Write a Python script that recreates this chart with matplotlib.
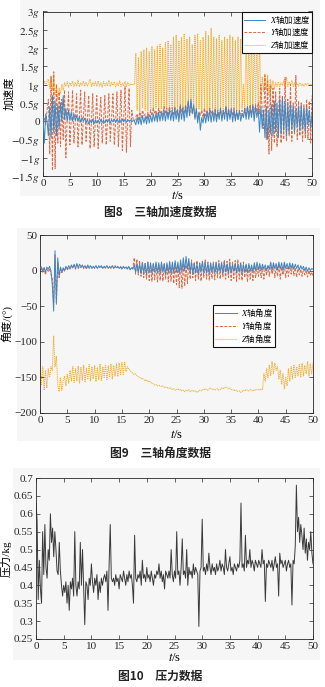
import numpy as np
import matplotlib
matplotlib.use("Agg")
import matplotlib.pyplot as plt
from matplotlib.patches import Rectangle

plt.rcParams['font.family'] = ['Liberation Serif', 'Noto Sans CJK SC']
plt.rcParams['mathtext.fontset'] = 'stix'
plt.rcParams['axes.unicode_minus'] = True

# ---------------- 图8 三轴加速度 (单位 g), 每 0.25 s 一个点 ----------------
acc_x = [
    0.10, -0.60, 0.20, 0.00, -0.40, 0.40, -0.45, 0.70,
    -0.30, 0.55, -0.40, 0.45, -0.20, 0.50, 0.00, 0.70,
    0.05, 0.35, 0.00, 0.30, 0.02, 0.25, 0.00, 0.20,
    0.02, 0.15, 0.00, 0.12, -0.03, 0.10, 0.00, 0.08,
    -0.05, 0.05, -0.08, 0.03, -0.05, 0.05, -0.07, 0.04,
    -0.05, 0.03, -0.06, 0.05, -0.04, 0.03, -0.05, 0.04,
    -0.03, 0.05, -0.05, 0.04, -0.02, 0.06, -0.04, 0.05,
    -0.03, 0.05, -0.04, 0.06, -0.02, 0.05, -0.03, 0.04,
    0.00, 0.03, -0.02, 0.02, 0.00, -0.10, 0.10, -0.08,
    0.12, -0.10, 0.15, -0.05, 0.12, -0.08, 0.18, -0.05,
    0.15, -0.03, 0.20, 0.00, 0.22, -0.02, 0.25, 0.00,
    0.25, 0.02, 0.30, 0.00, 0.28, 0.05, 0.32, 0.02,
    0.30, 0.00, 0.35, 0.05, 0.30, -0.02, 0.38, 0.05,
    0.35, 0.00, 0.40, 0.10, 0.55, 0.15, 0.60, 0.20,
    0.45, 0.05, 0.35, -0.05, 0.25, -0.25, 0.10, -0.05,
    0.20, -0.05, 0.25, 0.00, 0.30, -0.03, 0.28, 0.00,
    0.30, -0.02, 0.25, 0.05, 0.35, 0.00, 0.30, 0.05,
    0.40, 0.00, 0.30, 0.05, 0.35, -0.02, 0.30, 0.00,
    0.25, 0.05, 0.30, 0.00, 0.20, 0.10, 0.35, 0.05,
    0.40, 0.05, 0.35, 0.10, 0.45, 0.00, 0.40, 0.10,
    0.35, -0.30, 0.40, -0.20, 0.30, -0.45, 0.40, -0.50,
    0.30, -0.35, 0.45, -0.40, 0.55, -0.30, 0.50, -0.45,
    0.60, -0.35, 0.65, -0.25, 0.55, -0.40, 0.45, -0.30,
    0.50, -0.20, 0.40, -0.30, 0.35, -0.15, 0.40, -0.25,
    0.45, -0.20, 0.35, -0.30, 0.40, -0.10, 0.30, -0.20,
    0.20,
]
acc_y = [
    0.00, 0.10, -0.10, 0.30, 0.60, -0.90, 1.20, -1.35,
    1.35, -1.30, 1.00, -0.60, 0.80, -0.70, 0.60, -0.50,
    0.85, -1.00, 0.10, 0.80, -0.65, 0.05, 0.85, -0.60,
    0.00, 0.75, -0.70, 0.10, 0.85, -0.65, 0.05, 0.80,
    -0.55, 0.10, 0.70, -0.75, 0.00, 0.75, -0.70, 0.05,
    0.70, -0.75, 0.10, 0.65, -0.60, 0.00, 0.70, -0.65,
    0.05, 0.75, -0.55, 0.10, 0.75, -0.65, 0.00, 0.80,
    -0.70, 0.10, 0.85, -0.80, 0.05, 0.95, -0.85, 0.10,
    0.90, -0.70, 0.30, 0.05, 0.00, 0.10, 0.20, 0.05,
    0.25, 0.10, 0.30, 0.15, 0.20, 0.05, 0.25, 0.10,
    0.30, 0.15, 0.35, 0.20, 0.30, 0.10, 0.35, 0.20,
    0.30, 0.15, 0.40, 0.20, 0.35, 0.15, 0.40, 0.25,
    0.35, 0.15, 0.40, 0.20, 0.35, 0.10, 0.45, 0.25,
    0.40, 0.20, 0.45, 0.25, 0.55, 0.15, 0.50, 0.20,
    0.35, 0.10, 0.30, 0.05, 0.25, 0.15, 0.30, 0.10,
    0.35, 0.15, 0.30, 0.10, 0.35, 0.20, 0.30, 0.15,
    0.35, 0.10, 0.30, 0.15, 0.35, 0.10, 0.30, 0.20,
    0.40, 0.15, 0.35, 0.10, 0.30, 0.15, 0.35, 0.10,
    0.30, 0.05, 0.25, 0.15, 0.30, 0.10, 0.35, 0.15,
    0.40, 0.20, 0.45, 0.15, 0.40, 0.20, 0.45, 0.25,
    0.50, 0.20, 1.00, 0.30, -0.20, 1.25, -0.50, 1.10,
    -0.90, 1.00, -0.80, 0.90, -0.60, 0.80, -0.70, 0.20,
    0.90, -0.60, 0.70, -0.50, 1.20, -0.55, 0.60, -0.40,
    1.00, -0.55, 0.50, -0.35, 1.25, -0.50, 0.55, -0.40,
    0.50, -0.55, 0.45, -0.45, 0.60, -0.50, 0.55, -0.60,
    0.70,
]
acc_z = [
    1.00, 1.10, 0.95, 1.08, 1.15, 0.90, 1.25, 0.85,
    1.20, 0.70, 1.00, 0.60, 0.90, 0.75, 1.00, 0.85,
    1.05, 0.95, 1.08, 0.93, 1.05, 0.97, 1.10, 0.95,
    1.06, 0.96, 1.12, 0.94, 1.05, 0.98, 1.10, 0.95,
    1.07, 0.96, 1.04, 1.15, 0.95, 1.06, 0.97, 1.08,
    0.95, 1.10, 0.96, 1.05, 0.93, 1.08, 0.97, 1.05,
    0.96, 1.12, 0.95, 1.06, 0.98, 1.08, 0.94, 1.05,
    0.97, 1.10, 0.95, 1.04, 0.96, 1.08, 0.95, 1.06,
    0.97, 1.03, 0.98, 1.02, 1.00, 1.85, 0.30, 1.75,
    0.25, 1.90, 0.35, 1.95, 0.30, 2.00, 0.28, 1.90,
    0.32, 2.05, 0.30, 1.95, 0.35, 2.05, 0.30, 2.10,
    0.33, 2.00, 0.30, 2.15, 0.35, 2.20, 0.32, 2.10,
    0.35, 2.30, 0.30, 2.35, 0.38, 2.20, 0.33, 2.30,
    0.36, 2.40, 0.30, 2.25, 0.40, 2.30, 0.35, 2.10,
    0.30, 2.35, 0.28, 2.40, 0.32, 2.20, 0.30, 2.30,
    0.30, 2.45, 0.28, 2.35, 0.30, 2.55, 0.33, 2.30,
    0.30, 2.25, 0.28, 2.35, 0.30, 2.20, 0.32, 2.30,
    0.28, 2.25, 0.30, 2.35, 0.27, 2.30, 0.30, 2.20,
    0.28, 2.30, 0.30, 2.25, 0.35, 1.00, 0.30, 2.30,
    0.30, 2.25, 0.33, 2.35, 0.30, 2.30, 0.32, 2.20,
    0.30, 2.30, 0.45, 1.20, 0.80, 1.30, 0.85, 1.25,
    0.70, 1.15, 0.90, 1.10, 0.88, 1.05, 0.95, 1.08,
    0.95, 1.05, 0.97, 1.10, 0.93, 1.20, 0.95, 1.08,
    0.96, 1.12, 0.95, 1.05, 0.98, 1.03, 0.96, 1.05,
    0.97, 1.02, 0.95, 1.04, 0.98, 1.03, 0.96, 1.02,
    0.98,
]

# ---------------- 图9 三轴角度 (°), 每 0.25 s 一个点 ----------------
ang_x = [
    3, 5, 0, 4, -2, 5, 2, 6,
    0, -20, -57, 28, -45, 18, -8, 5,
    -2, 4, 0, 6, 2, 7, 3, 8,
    4, 9, 3, 10, 4, 9, 5, 8,
    4, 7, 3, 8, 4, 7, 3, 6,
    4, 7, 3, 6, 5, 7, 3, 6,
    4, 7, 3, 6, 4, 7, 3, 6,
    4, 6, 3, 5, 2, 6, 3, 5,
    2, 6, 1, 4, 2, 8, -2, 10,
    -3, 9, -4, 11, -3, 10, -5, 12,
    -3, 11, -4, 10, -2, 12, -3, 11,
    -4, 12, -2, 10, -5, 11, -3, 13,
    -4, 12, -3, 14, -2, 12, -4, 15,
    -2, 18, 0, 20, 2, 17, -3, 12,
    -5, 10, -3, 9, -6, 11, -2, 13,
    -4, 12, -3, 10, -5, 11, -2, 9,
    -4, 12, -3, 10, -2, 11, -4, 12,
    -2, 9, -4, 10, -3, 8, -1, 10,
    -3, 9, -2, 11, -4, 8, -2, 9,
    -3, 10, -1, 8, -2, 11, 0, 12,
    1, 10, 0, 9, 2, 8, 0, 7,
    2, 12, 0, 11, 3, 10, 1, 12,
    2, 11, 0, 12, 3, 10, 2, 11,
    3, 10, 2, 9, 3, 8, 1, 7,
    2, 6, 0, 5, -1, 4, 0, 3,
    2,
]
ang_y = [
    -5, 5, -3, 4, -6, 2, -2, 3,
    -5, -10, -45, 22, -48, 12, -10, 2,
    -3, 2, -1, 4, 1, 5, 2, 6,
    3, 7, 2, 8, 3, 6, 4, 7,
    3, 6, 2, 7, 3, 6, 4, 6,
    3, 6, 4, 7, 3, 5, 4, 6,
    3, 6, 4, 5, 3, 6, 4, 7,
    3, 5, 4, 6, 3, 5, 4, 6,
    3, 5, 2, 4, 3, 18, -5, 16,
    -6, 14, -8, 12, -10, 10, -12, 12,
    -14, 8, -15, 10, -13, 9, -16, 8,
    -14, 10, -15, 9, -12, 8, -16, 7,
    -15, 9, -18, 10, -20, 8, -24, 12,
    -25, 10, -22, 8, -18, 12, -12, 15,
    -10, 12, -14, 14, -12, 10, -15, 13,
    -10, 15, -12, 12, -14, 10, -11, 13,
    -13, 11, -10, 14, -12, 12, -9, 15,
    -12, 13, -10, 16, -14, 12, -11, 14,
    -15, 15, -12, 10, -14, 12, -10, 9,
    -16, 8, -12, 6, -14, 7, -10, 5,
    -8, 6, -10, 5, -12, 4, -6, 8,
    -8, 10, -5, 8, -10, 6, -8, 9,
    -12, 5, -6, 8, -10, 4, -8, 6,
    -5, 8, -7, 4, -9, 3, -6, 2,
    -8, 2, -6, 1, -9, 0, -7, -2,
    -8,
]
ang_z = [
    -137, -160, -135, -168, -140, -165, -138, -150,
    -135, -140, -92, -135, -120, -160, -170, -150,
    -168, -155, -148, -162, -145, -158, -140, -155,
    -135, -157, -138, -155, -134, -158, -136, -154,
    -133, -156, -137, -153, -132, -155, -135, -152,
    -133, -156, -136, -153, -131, -154, -135, -150,
    -132, -153, -134, -150, -131, -152, -133, -148,
    -131, -149, -130, -147, -129, -146, -128, -142,
    -135, -138, -140, -143, -144, -146, -145, -148,
    -149, -150, -152, -151, -153, -155, -153, -156,
    -155, -157, -158, -159, -161, -160, -162, -161,
    -162, -163, -162, -164, -163, -165, -164, -166,
    -165, -167, -166, -168, -167, -166, -168, -167,
    -169, -168, -170, -168, -169, -167, -170, -169,
    -168, -170, -169, -171, -170, -168, -169, -167,
    -168, -166, -167, -168, -166, -165, -167, -166,
    -168, -167, -166, -168, -167, -165, -166, -164,
    -165, -164, -166, -165, -167, -168, -167, -169,
    -168, -170, -169, -171, -170, -168, -169, -167,
    -168, -169, -167, -168, -169, -167, -168, -167,
    -167, -168, -166, -167, -145, -155, -138, -150,
    -133, -148, -128, -145, -130, -140, -135, -152,
    -140, -160, -145, -166, -150, -162, -138, -155,
    -135, -152, -133, -150, -135, -148, -132, -150,
    -130, -148, -133, -145, -128, -148, -131, -145,
    -130,
]

# ---------------- 图10 压力 (kg), 每 0.2 s 一个点 ----------------
pressure = [
    0.63, 0.58, 0.36, 0.47, 0.39, 0.35, 0.55, 0.43, 0.57, 0.45,
    0.42, 0.50, 0.47, 0.60, 0.52, 0.56, 0.48, 0.55, 0.50, 0.44,
    0.43, 0.52, 0.44, 0.40, 0.37, 0.40, 0.38, 0.41, 0.35, 0.40,
    0.33, 0.41, 0.39, 0.42, 0.37, 0.55, 0.40, 0.37, 0.41, 0.39,
    0.52, 0.40, 0.50, 0.39, 0.29, 0.41, 0.40, 0.36, 0.42, 0.40,
    0.46, 0.41, 0.38, 0.42, 0.40, 0.43, 0.36, 0.41, 0.38, 0.42,
    0.40, 0.42, 0.43, 0.41, 0.44, 0.33, 0.46, 0.57, 0.42, 0.41,
    0.42, 0.40, 0.43, 0.41, 0.42, 0.39, 0.43, 0.42, 0.41, 0.44,
    0.42, 0.40, 0.43, 0.41, 0.44, 0.42, 0.43, 0.40, 0.35, 0.54,
    0.42, 0.41, 0.43, 0.42, 0.44, 0.40, 0.47, 0.42, 0.43, 0.41,
    0.45, 0.42, 0.43, 0.41, 0.44, 0.42, 0.40, 0.43, 0.42, 0.44,
    0.43, 0.46, 0.42, 0.44, 0.41, 0.43, 0.39, 0.44, 0.43, 0.42,
    0.44, 0.42, 0.50, 0.43, 0.41, 0.44, 0.42, 0.55, 0.43, 0.44,
    0.40, 0.45, 0.53, 0.43, 0.44, 0.42, 0.50, 0.40, 0.45, 0.43,
    0.44, 0.42, 0.46, 0.43, 0.45, 0.44, 0.43, 0.285, 0.44, 0.45,
    0.585, 0.44, 0.45, 0.43, 0.46, 0.44, 0.49, 0.45, 0.43, 0.46,
    0.44, 0.45, 0.43, 0.46, 0.44, 0.45, 0.47, 0.44, 0.46, 0.45,
    0.43, 0.50, 0.45, 0.44, 0.46, 0.48, 0.44, 0.45, 0.43, 0.46,
    0.45, 0.44, 0.46, 0.45, 0.47, 0.63, 0.45, 0.46, 0.44, 0.54,
    0.45, 0.47, 0.46, 0.50, 0.45, 0.47, 0.46, 0.44, 0.47, 0.46,
    0.45, 0.47, 0.46, 0.45, 0.50, 0.46, 0.47, 0.355, 0.46, 0.45,
    0.47, 0.46, 0.45, 0.47, 0.44, 0.46, 0.48, 0.45, 0.46, 0.37,
    0.49, 0.46, 0.47, 0.45, 0.46, 0.47, 0.44, 0.46, 0.47, 0.45,
    0.46, 0.345, 0.47, 0.46, 0.51, 0.68, 0.55, 0.59, 0.52, 0.57,
    0.54, 0.50, 0.56, 0.49, 0.53, 0.47, 0.52, 0.50, 0.55, 0.49,
    0.46,
]

acc_labels = ['$X$轴加速度', '$Y$轴加速度', '$Z$轴加速度']
ang_labels = ['$X$轴角度', '$Y$轴角度', '$Z$轴角度']
captions = ['图8　三轴加速度数据', '图9　三轴角度数据', '图10　压力数据']

blue = '#3f86c4'
red = '#dd6a45'
yellow = '#efb13c'
W, H = 325, 687

fig = plt.figure(figsize=(W / 100, H / 100), dpi=100)
fig.patch.set_facecolor('white')

# 灰色底块 (像素: x0, y0, x1, y1), 画在坐标轴下面
for x0, y0, x1, y1 in [(20, 0, 320, 196), (17, 228, 320, 441), (13, 468, 320, 660)]:
    fig.patches.append(Rectangle((x0 / W, 1 - y1 / H), (x1 - x0) / W, (y1 - y0) / H,
                                 transform=fig.transFigure, facecolor='#f6f6f6',
                                 edgecolor='none', zorder=-10))


def make_axes(px_left, px_top, px_right, px_bottom):
    ax = fig.add_axes([px_left / W, 1 - px_bottom / H,
                       (px_right - px_left) / W, (px_bottom - px_top) / H])
    ax.set_zorder(2)
    ax.set_facecolor('none')
    for s in ax.spines.values():
        s.set_linewidth(0.6)
        s.set_color('#262626')
    ax.tick_params(direction='in', top=True, right=True, length=3, width=0.5,
                   labelsize=8, pad=2, colors='#262626')
    ax.set_xlim(0, 50)
    ax.set_xticks(np.arange(0, 51, 5))
    return ax


leg_kw = dict(prop={'family': 'Noto Sans CJK SC', 'size': 6}, frameon=True,
              fancybox=False, framealpha=1, edgecolor='#111111', labelspacing=0.05,
              borderpad=0.25, handlelength=2.6, handletextpad=0.5)

# ---- 图8 ----
ax1 = make_axes(43, 11.5, 312, 176)
t1 = np.linspace(0, 50, len(acc_x))
ax1.plot(t1, acc_x, color=blue, lw=0.7, label=acc_labels[0], zorder=3)
ax1.plot(t1, acc_y, color=red, lw=0.7, dashes=(3, 1.5), label=acc_labels[1], zorder=2)
ax1.plot(t1, acc_z, color=yellow, lw=0.8, dashes=(1, 0.8), label=acc_labels[2], zorder=1)
ax1.set_ylim(-1.5, 3)
yt = np.arange(-1.5, 3.01, 0.5)
ax1.set_yticks(yt)
ax1.set_yticklabels(['0' if abs(v) < 1e-9 else r'$%gg$' % v for v in yt])
ax1.set_ylabel('加速度', fontsize=8)
ax1.yaxis.set_label_coords(-0.106, 0.5)
ax1.set_xlabel('$t$/s', fontsize=9)
ax1.xaxis.set_label_coords(0.5, -0.085)
leg1 = ax1.legend(loc='upper right', bbox_to_anchor=(1, 1), borderaxespad=0, **leg_kw)
leg1.get_frame().set_linewidth(0.8)

# ---- 图9 ----
ax2 = make_axes(40, 235, 313, 413)
t2 = np.linspace(0, 50, len(ang_x))
ax2.plot(t2, ang_x, color=blue, lw=0.7, label=ang_labels[0], zorder=3)
ax2.plot(t2, ang_y, color=red, lw=0.7, dashes=(3, 1.5), label=ang_labels[1], zorder=2)
ax2.plot(t2, ang_z, color=yellow, lw=0.8, dashes=(1, 0.8), label=ang_labels[2], zorder=1)
ax2.set_ylim(-200, 50)
ax2.set_yticks(np.arange(-200, 51, 50))
ax2.set_ylabel('角度/(°)', fontsize=8)
ax2.yaxis.set_label_coords(-0.097, 0.5)
ax2.set_xlabel('$t$/s', fontsize=9)
ax2.xaxis.set_label_coords(0.5, -0.09)
leg2 = ax2.legend(loc='upper left', bbox_to_anchor=(0.634, 0.607), borderaxespad=0, **leg_kw)
leg2.get_frame().set_linewidth(0.8)

# ---- 图10 ----
ax3 = make_axes(36, 478, 313, 639)
t3 = np.linspace(0, 50, len(pressure))
ax3.plot(t3, pressure, color='#3a3a3a', lw=0.7)
ax3.set_ylim(0.25, 0.7)
yt3 = np.arange(0.25, 0.701, 0.05)
ax3.set_yticks(yt3)
ax3.set_yticklabels(['%g' % round(v, 2) for v in yt3])
ax3.set_ylabel('压力/kg', fontsize=8)
ax3.yaxis.set_label_coords(-0.088, 0.5)
ax3.set_xlabel('$t$/s', fontsize=9)
ax3.xaxis.set_label_coords(0.5, -0.08)

for y, cap in zip([212, 453, 676], captions):
    fig.text(160 / W, 1 - y / H, cap, ha='center', va='center', fontsize=8.5,
             family='Noto Sans CJK SC', weight='bold', color='#222222')

fig.savefig('out.png', dpi=100)
